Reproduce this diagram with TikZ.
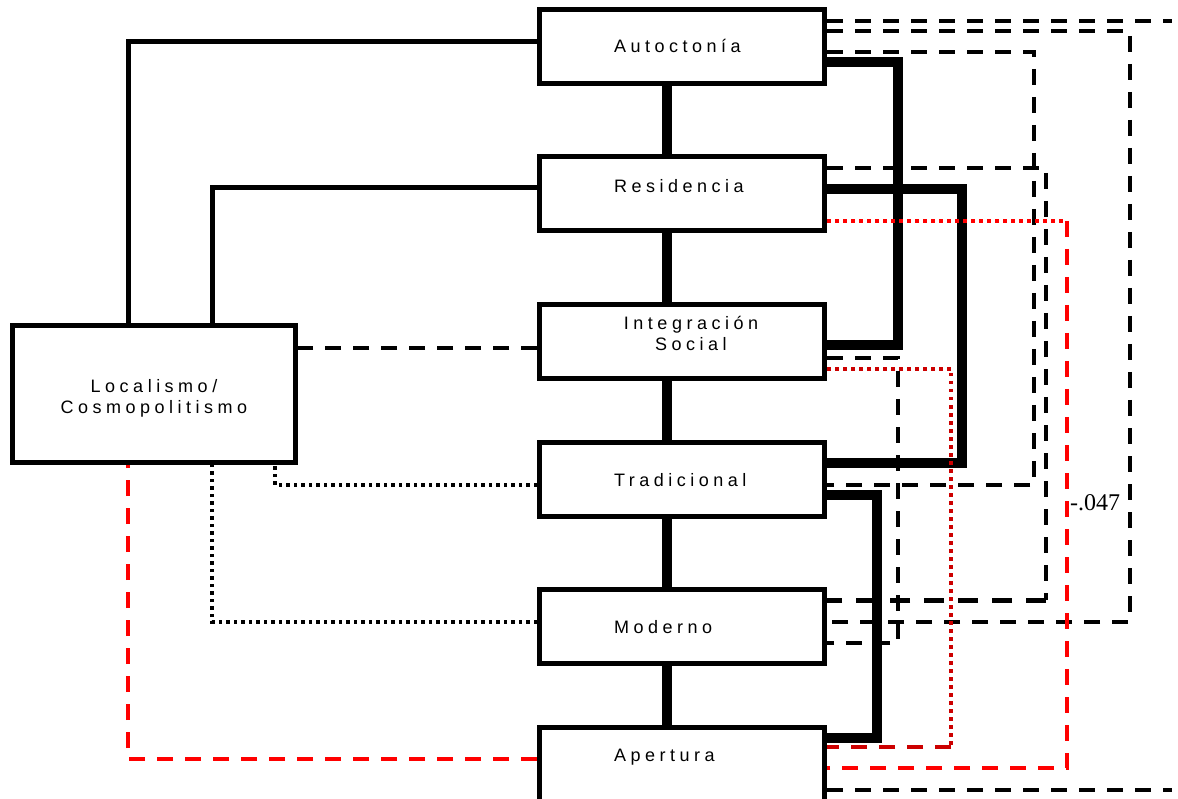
\documentclass[tikz,border=0pt]{standalone}
\usepackage{fontspec}
\setmainfont{Liberation Sans}
\newfontfamily\boxfont[LetterSpace=25]{Liberation Sans}
\newfontfamily\numfont{Liberation Serif}
\usetikzlibrary{positioning}
\definecolor{rojo}{RGB}{255,0,0}
\definecolor{granate}{RGB}{204,0,0}

\begin{document}
\begin{tikzpicture}[x=1pt,y=-1pt,
    box/.style={draw,line width=5pt,fill=white,minimum width=285pt,minimum height=74pt,
      text width=136pt,align=left,font=\boxfont\fontsize{18}{20.7}\selectfont},
    lift/.style 2 args={text height=#1pt,text depth=#2pt},
    lnk/.style={line width=5pt},
    fat/.style={line width=10pt},
    dsh/.style={line width=4pt,dash pattern=on 16pt off 12pt},
    dsh2/.style={line width=5pt,dash pattern=on 20pt off 14pt},
    dotl/.style={line width=3.5pt,dash pattern=on 3.5pt off 4pt},
    rdot/.style={rojo,line width=3.5pt,dash pattern=on 3.5pt off 4.5pt},
    rdsh/.style={rojo,line width=4pt,dash pattern=on 16pt off 12pt},
    gdot/.style={granate,line width=3.5pt,dash pattern=on 3.5pt off 4.5pt},
    gdsh/.style={granate,line width=4pt,dash pattern=on 16pt off 12pt},
    coef/.style={font=\numfont\fontsize{24}{28}\selectfont,inner sep=0pt}]
  \useasboundingbox (0,0) rectangle (1178,799);
  % variables
  \node[box,lift={13}{1}] (auto) at (682,46.5) {Autoctonía};
  \node[box,lift={13}{15}] (resid) at (682,193.5) {Residencia};
  \node[box,lift={13}{37.3},text width=200pt,align=center] (integ) at (682,342)
    {\hspace*{18pt}Integración\\\hspace*{18pt}Social};
  \node[box,lift={15}{0}] (trad) at (682,479) {Tradicional};
  \node[box,lift={14.6}{0}] (moder) at (682,626.5) {Moderno};
  \node[box,lift={13}{19}] (apert) at (682,764.5) {Apertura};
  \node[box,lift={13}{15.3},minimum width=283pt,minimum height=137pt,text width=250pt,
    align=center] (loc) at (154,394) {Localismo/\\Cosmopolitismo};
  \coordinate (edgeA) at (1172,21);
  \coordinate (edgeB) at (1172,790);
  % central chain
  \foreach \a/\b in {auto/resid,resid/integ,integ/trad,trad/moder,moder/apert}
    \draw[fat] (\a.south -| 667,0) -- (\b.north -| 667,0);
  % left side
  \draw[lnk] (auto.west |- 0,42) -| (loc.north -| 128,0);
  \draw[lnk] (resid.west |- 0,188) -| (loc.north -| 212,0);
  \draw[dsh] (integ.west |- 0,348) -- (loc.east |- 0,348);
  \draw[dotl] (trad.west |- 0,485) -| (loc.south -| 275,0);
  \draw[dotl] (moder.west |- 0,622) -| (loc.south -| 212,0);
  \draw[rdsh] (apert.west |- 0,759) -| (loc.south -| 128,0);
  % right side
  \draw[dsh] (auto.east |- 0,21) -- (edgeA);
  \draw[dsh] (auto.east |- 0,31) -| (1130,503) node[coef,left=8pt] (c047) {-.047} |- (moder.east |- 0,622);
  \draw[dsh] (auto.east |- 0,52) -| (1034,485) -- (trad.east |- 0,485);
  \draw[fat] (auto.east |- 0,62) -| (898,345) -- (integ.east |- 0,345);
  \draw[dsh] (resid.east |- 0,168) -| (1046,600) coordinate (rm);
  \draw[dsh2] (rm) -- (moder.east |- 0,600);
  \draw[fat] (resid.east |- 0,189) -| (962,463) -- (trad.east |- 0,463);
  \draw[rdot] (resid.east |- 0,221) -- (1067,221) coordinate (ra);
  \draw[rdsh] (ra) |- (apert.east |- 0,768);
  \draw[dsh] (integ.east |- 0,358) -| (898,643) -- (moder.east |- 0,643);
  \draw[gdot] (integ.east |- 0,369) -| (951,747) coordinate (ia);
  \draw[gdsh] (ia) -- (apert.east |- 0,747);
  \draw[fat] (trad.east |- 0,495) -| (877,738) -- (apert.east |- 0,738);
  \draw[dsh] (apert.east |- 0,790) -- (edgeB);
\end{tikzpicture}
\end{document}
